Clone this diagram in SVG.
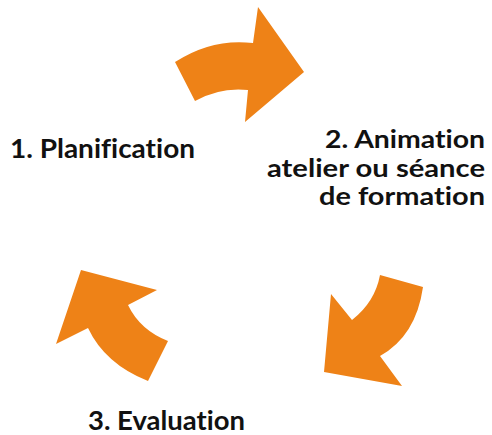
<svg xmlns="http://www.w3.org/2000/svg" width="492" height="435" viewBox="0 0 492 435">
  <style>
    .arrow { fill: #EE8217; }
    .label { font-family: Lato, "Open Sans", "Liberation Sans", sans-serif; font-weight: bold; font-size: 26px; fill: #111111; font-variant-ligatures: none; font-feature-settings: "liga" 0, "dlig" 0; }
    .tight { font-size: 25px; }
  </style>
  <rect width="492" height="435" fill="#ffffff"/>
  <g id="connectors">
    <path id="arrow-plan-to-anim" class="arrow" d="M175,62 Q212,38 253,43 L258,7 L304,72 L245,122 L248,90 Q220,87 195,101 Z"/>
    <path id="arrow-anim-to-eval" class="arrow" d="M380,275 L423,287 Q416,336 380,356 L402,386 L324,372 L331,294 L352,320 Q375,302 380,275 Z"/>
    <path id="arrow-eval-to-plan" class="arrow" d="M81,270 L157,290 L128,305 Q140,330 168,341 L148,381 Q105,364 88,328 L56,344 Z"/>
  </g>
  <g id="node-planification">
    <text class="label" x="10" y="158" textLength="185" lengthAdjust="spacingAndGlyphs">1. Planification</text>
  </g>
  <g id="node-animation">
    <text class="label tight" x="325" y="148" textLength="160" lengthAdjust="spacingAndGlyphs">2. Animation</text>
    <text class="label tight" x="267" y="177" textLength="218" lengthAdjust="spacingAndGlyphs">atelier ou séance</text>
    <text class="label tight" x="319" y="205" textLength="166" lengthAdjust="spacingAndGlyphs">de formation</text>
  </g>
  <g id="node-evaluation">
    <text class="label" x="88" y="430" textLength="157" lengthAdjust="spacingAndGlyphs">3. Evaluation</text>
  </g>
</svg>
